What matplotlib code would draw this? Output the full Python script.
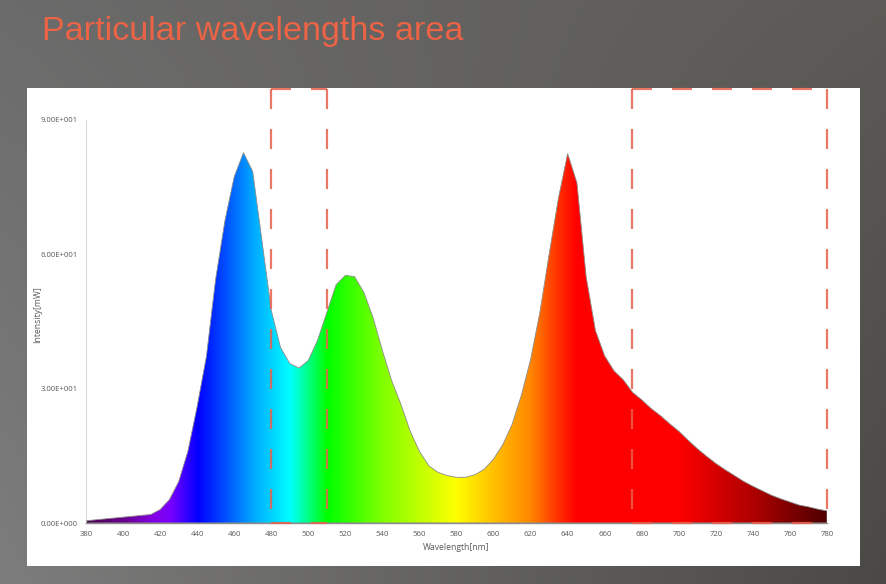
import numpy as np
import matplotlib
matplotlib.use('Agg')
import matplotlib.pyplot as plt
from matplotlib.colors import LinearSegmentedColormap
from matplotlib.patches import Polygon, Rectangle

# 波長[nm]と強度[mW]
wavelength = [380, 385, 390, 395, 400, 405, 410, 415, 420, 425,
              430, 435, 440, 445, 450, 455, 460, 465, 470, 475,
              480, 485, 490, 495, 500, 505, 510, 515, 520, 525,
              530, 535, 540, 545, 550, 555, 560, 565, 570, 575,
              580, 585, 590, 595, 600, 605, 610, 615, 620, 625,
              630, 635, 640, 645, 650, 655, 660, 665, 670, 675,
              680, 685, 690, 695, 700, 705, 710, 715, 720, 725,
              730, 735, 740, 745, 750, 755, 760, 765, 770, 775, 780]
intensity = [0.5, 0.7, 0.9, 1.1, 1.3, 1.5, 1.7, 1.9, 3.0, 5.2,
             9.2, 16.0, 26.0, 37.2, 54.5, 67.5, 77.3, 82.7, 78.5, 63.0,
             47.5, 39.2, 35.6, 34.6, 36.3, 40.8, 47.0, 53.2, 55.3, 55.0,
             51.5, 45.8, 38.5, 31.8, 26.5, 20.5, 16.0, 12.8, 11.3, 10.6,
             10.2, 10.2, 10.8, 12.0, 14.3, 17.5, 22.0, 28.5, 36.5, 47.0,
             60.0, 72.5, 82.5, 76.0, 55.0, 43.0, 37.3, 34.0, 32.0, 29.2,
             27.5, 25.6, 24.0, 22.2, 20.5, 18.5, 16.6, 14.9, 13.3, 11.9,
             10.6, 9.3, 8.2, 7.2, 6.2, 5.4, 4.7, 4.0, 3.6, 3.1, 2.7]

# 特定波長域（破線の枠）
areas = [(480, 510), (675, 780)]

xticks = list(range(380, 781, 20))
yticks = [0, 30, 60, 90]
ytick_labels = ['0.00E+000', '3.00E+001', '6.00E+001', '9.00E+001']

# スペクトルの色
spec_wl = [380, 400, 415, 425, 440, 455, 470, 490, 500, 510, 540, 580,
           600, 620, 635, 645, 700, 740, 780]
spec_col = ['#4a0050', '#6a0090', '#8200e0', '#7a00ff', '#0000ff', '#0050ff',
            '#00a8ff', '#00ffff', '#00ff80', '#00ff00', '#80ff00', '#ffff00',
            '#ffc000', '#ff8800', '#ff3000', '#ff0000', '#ff0000', '#b00000',
            '#500000']
pos = [(w - 380) / 400 for w in spec_wl]
cmap = LinearSegmentedColormap.from_list('spec', list(zip(pos, spec_col)))

fig = plt.figure(figsize=(8.86, 5.84), dpi=100)

# 背景（灰色のグラデーション）
bg = fig.add_axes([0, 0, 1, 1])
bg.set_axis_off()
xs, ys = np.meshgrid(np.linspace(0, 1, 256), np.linspace(0, 1, 256))
lum = 0.49 - 0.20 * xs + ys * (-0.07 + 0.14 * xs)
rgb = np.dstack([lum, lum * (1 - 0.015 * xs), lum * (1 - 0.06 * xs)])
bg.imshow(rgb, extent=[0, 1, 0, 1], aspect='auto', origin='lower')
bg.set_xlim(0, 1)
bg.set_ylim(0, 1)
bg.add_patch(Rectangle((27 / 886, 1 - 566 / 584), (860 - 27) / 886, (566 - 88) / 584,
                       facecolor='white', edgecolor='none'))

fig.text(42 / 886, 1 - 40 / 584, 'Particular wavelengths area', color='#ec6345',
         fontsize=24.6, family='Liberation Sans', ha='left', va='baseline')

ax = fig.add_axes([86 / 886, 1 - 523 / 584, (827 - 86) / 886, (523 - 120) / 584])
ax.set_facecolor('none')
ax.set_xlim(380, 780)
ax.set_ylim(0, 90)

verts = [(380, 0)] + list(zip(wavelength, intensity)) + [(780, 0)]
poly = Polygon(verts, closed=True, facecolor='none', edgecolor='#8c8c8c', lw=0.6, zorder=3)
ax.add_patch(poly)
im = ax.imshow(np.linspace(0, 1, 512).reshape(1, -1), cmap=cmap, aspect='auto',
               extent=[380, 780, 0, 90], interpolation='bilinear', zorder=2)
im.set_clip_path(poly)

for spine in ['top', 'right']:
    ax.spines[spine].set_visible(False)
ax.spines['left'].set_color('#d9d9d9')
ax.spines['bottom'].set_color('#8c8c8c')
ax.spines['bottom'].set_linewidth(1.0)
ax.spines['bottom'].set_zorder(4)

ax.set_xticks(xticks)
ax.set_yticks(yticks)
ax.set_yticklabels(ytick_labels)
ax.tick_params(length=0, labelsize=5.6, labelcolor='#595959', pad=6)
for t in ax.get_xticklabels() + ax.get_yticklabels():
    t.set_family('Open Sans')
ax.set_xlabel('Wavelength[nm]', fontsize=6.2, color='#595959', family='Open Sans', labelpad=3)
ax.set_ylabel('Intensity[mW]', fontsize=6.2, color='#595959', family='Open Sans')
ax.yaxis.set_label_coords(-0.0594, 0.516)

# 破線の枠
top = 96.9
kw = dict(color='#e8604c', alpha=0.85, lw=1.6, dashes=(9, 9), clip_on=False, zorder=5)
for x0, x1 in areas:
    ax.plot([x0, x1], [top, top], **kw)
    ax.plot([x0, x0], [top, 0], **kw)
    ax.plot([x1, x1], [top, 0], **kw)
    ax.plot([x0, x1], [0, 0], **kw)

fig.savefig('out.png', dpi=100)
